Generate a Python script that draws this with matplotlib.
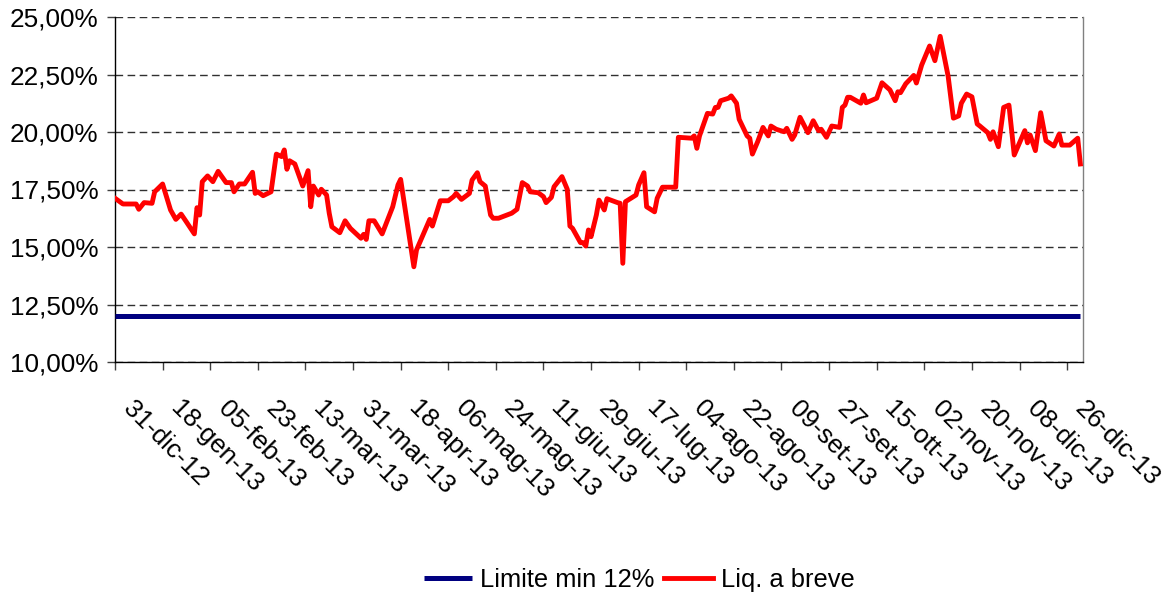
import matplotlib
matplotlib.use("Agg")
import matplotlib.pyplot as plt
import matplotlib.transforms as mtransforms
import pandas as pd
import numpy as np

plt.rcParams['font.family'] = ['Liberation Sans', 'DejaVu Sans']

# ---- data ----
dates = [
    "2012-12-31", "2013-01-03", "2013-01-08", "2013-01-09", "2013-01-11", "2013-01-14",
    "2013-01-15", "2013-01-18", "2013-01-21", "2013-01-23", "2013-01-25", "2013-01-27",
    "2013-01-30", "2013-01-31", "2013-02-01", "2013-02-02", "2013-02-04", "2013-02-06",
    "2013-02-08", "2013-02-11", "2013-02-13", "2013-02-14", "2013-02-16", "2013-02-18",
    "2013-02-21", "2013-02-22", "2013-02-23", "2013-02-25", "2013-02-28", "2013-03-02",
    "2013-03-04", "2013-03-05", "2013-03-06", "2013-03-07", "2013-03-09", "2013-03-12",
    "2013-03-14", "2013-03-15", "2013-03-16", "2013-03-18", "2013-03-19", "2013-03-21",
    "2013-03-22", "2013-03-23", "2013-03-26", "2013-03-28", "2013-03-30", "2013-04-03",
    "2013-04-04", "2013-04-05", "2013-04-06", "2013-04-08", "2013-04-11", "2013-04-15",
    "2013-04-17", "2013-04-18", "2013-04-23", "2013-04-24", "2013-04-29", "2013-04-30",
    "2013-05-03", "2013-05-06", "2013-05-08", "2013-05-09", "2013-05-11", "2013-05-14",
    "2013-05-15", "2013-05-17", "2013-05-18", "2013-05-20", "2013-05-22", "2013-05-23",
    "2013-05-25", "2013-05-29", "2013-05-30", "2013-06-01", "2013-06-03", "2013-06-05",
    "2013-06-06", "2013-06-09", "2013-06-11", "2013-06-12", "2013-06-14", "2013-06-15",
    "2013-06-18", "2013-06-20", "2013-06-21", "2013-06-22", "2013-06-25", "2013-06-26",
    "2013-06-27", "2013-06-28", "2013-06-29", "2013-07-01", "2013-07-02", "2013-07-04",
    "2013-07-05", "2013-07-09", "2013-07-10", "2013-07-11", "2013-07-12", "2013-07-16",
    "2013-07-17", "2013-07-19", "2013-07-20", "2013-07-23", "2013-07-24", "2013-07-26",
    "2013-07-31", "2013-08-01", "2013-08-06", "2013-08-07", "2013-08-08", "2013-08-09",
    "2013-08-12", "2013-08-14", "2013-08-15", "2013-08-16", "2013-08-17", "2013-08-20",
    "2013-08-21", "2013-08-23", "2013-08-24", "2013-08-27", "2013-08-28", "2013-08-29",
    "2013-08-31", "2013-09-02", "2013-09-04", "2013-09-05", "2013-09-07", "2013-09-10",
    "2013-09-11", "2013-09-13", "2013-09-14", "2013-09-16", "2013-09-19", "2013-09-21",
    "2013-09-23", "2013-09-24", "2013-09-26", "2013-09-28", "2013-10-01", "2013-10-02",
    "2013-10-03", "2013-10-04", "2013-10-05", "2013-10-09", "2013-10-10", "2013-10-11",
    "2013-10-15", "2013-10-17", "2013-10-20", "2013-10-22", "2013-10-23", "2013-10-24",
    "2013-10-26", "2013-10-29", "2013-10-30", "2013-11-01", "2013-11-04", "2013-11-06",
    "2013-11-08", "2013-11-11", "2013-11-13", "2013-11-15", "2013-11-16", "2013-11-18",
    "2013-11-20", "2013-11-22", "2013-11-23", "2013-11-26", "2013-11-27", "2013-11-28",
    "2013-11-30", "2013-12-02", "2013-12-04", "2013-12-06", "2013-12-10", "2013-12-11",
    "2013-12-12", "2013-12-14", "2013-12-16", "2013-12-18", "2013-12-21", "2013-12-23",
    "2013-12-24", "2013-12-27", "2013-12-30", "2013-12-31",
]

liq_breve = [
    17.12, 16.87, 16.87, 16.64, 16.93, 16.90,
    17.40, 17.74, 16.61, 16.20, 16.43, 16.09,
    15.57, 16.71, 16.39, 17.84, 18.09, 17.84,
    18.29, 17.80, 17.80, 17.40, 17.74, 17.74,
    18.25, 17.33, 17.40, 17.23, 17.40, 19.04,
    18.93, 19.22, 18.38, 18.75, 18.61, 17.65,
    18.32, 16.75, 17.65, 17.26, 17.51, 17.26,
    16.47, 15.88, 15.62, 16.14, 15.81, 15.38,
    15.55, 15.33, 16.14, 16.14, 15.57, 16.75,
    17.70, 17.94, 14.14, 14.87, 16.20, 15.91,
    17.01, 17.01, 17.19, 17.33, 17.07, 17.33,
    17.91, 18.23, 17.84, 17.65, 16.39, 16.25,
    16.25, 16.43, 16.47, 16.64, 17.80, 17.65,
    17.40, 17.36, 17.19, 16.93, 17.16, 17.62,
    18.06, 17.51, 15.91, 15.81, 15.19, 15.19,
    15.04, 15.74, 15.45, 16.39, 17.04, 16.61,
    17.10, 16.93, 16.90, 14.29, 16.97, 17.26,
    17.70, 18.23, 16.75, 16.53, 17.12, 17.60,
    17.60, 19.77, 19.73, 19.83, 19.29, 19.83,
    20.81, 20.78, 21.07, 21.07, 21.36, 21.47,
    21.57, 21.25, 20.55, 19.83, 19.73, 19.04,
    19.58, 20.20, 19.83, 20.26, 20.12, 20.01,
    20.16, 19.68, 19.87, 20.64, 19.97, 20.49,
    20.06, 20.12, 19.77, 20.26, 20.20, 21.07,
    21.17, 21.51, 21.51, 21.25, 21.61, 21.27,
    21.47, 22.14, 21.83, 21.36, 21.75, 21.71,
    22.10, 22.46, 22.13, 22.91, 23.74, 23.10,
    24.16, 22.43, 20.60, 20.70, 21.25, 21.65,
    21.53, 20.35, 20.26, 19.97, 19.68, 20.01,
    19.36, 21.07, 21.17, 19.00, 20.06, 19.53,
    19.87, 19.19, 20.84, 19.62, 19.39, 19.91,
    19.43, 19.43, 19.73, 18.61,
]

limite_min = 12.0

series_labels = ["Limite min 12%", "Liq. a breve"]
y_ticks = [10.0, 12.5, 15.0, 17.5, 20.0, 22.5, 25.0]
month_abbr = ["gen", "feb", "mar", "apr", "mag", "giu",
              "lug", "ago", "set", "ott", "nov", "dic"]

# ---- figure ----
W, H, DPI = 1165, 598, 100
fig = plt.figure(figsize=(W / DPI, H / DPI), dpi=DPI)
L, R, T, B = 115, 1083, 17, 362
ax = fig.add_axes([L / W, 1 - B / H, (R - L) / W, (B - T) / H])

x = pd.to_datetime(dates)
lim = np.full(len(x), limite_min)

ax.plot(x, lim, color='#000080', lw=3.6, solid_capstyle='butt', zorder=3,
        label=series_labels[0])
ax.plot(x, liq_breve, color='#FF0000', lw=3.5, solid_joinstyle='round',
        zorder=4, label=series_labels[1])

start = pd.Timestamp("2012-12-31")
ax.set_xlim(start, start + pd.Timedelta(days=366))
ax.set_ylim(10, 25)

ax.set_yticks(y_ticks)
ax.set_yticklabels([f"{v:.2f}".replace(".", ",") + "%" for v in y_ticks])

xt = pd.date_range(start, periods=21, freq="18D")
ax.set_xticks(xt)
ax.set_xticklabels([f"{d.day:02d}-{month_abbr[d.month-1]}-{d.year % 100:02d}" for d in xt])

ax.grid(axis='y', color='#303030', linestyle=(0, (5.5, 3.2)), lw=1.0, zorder=1)
ax.set_axisbelow(True)

for s in ['left', 'bottom']:
    ax.spines[s].set_color('black')
    ax.spines[s].set_linewidth(1.0)
ax.spines['top'].set_visible(False)
ax.spines['right'].set_color('#808080')
ax.spines['right'].set_linewidth(1.0)

ax.tick_params(axis='both', direction='out', length=6, width=1.0, color='#404040',
               labelsize=18.8)
ax.tick_params(axis='y', pad=6)
ax.tick_params(axis='x', pad=0)

offset = mtransforms.ScaledTranslation(20 / DPI, -26 / DPI, fig.dpi_scale_trans)
for lbl in ax.get_xticklabels():
    lbl.set_rotation(-45)
    lbl.set_rotation_mode('anchor')
    lbl.set_ha('left')
    lbl.set_va('top')
    lbl.set_transform(lbl.get_transform() + offset)

fig.legend(loc='center', bbox_to_anchor=(639 / W, 1 - 580 / H), ncol=2,
           frameon=False, fontsize=18.4, handlelength=1.9, handletextpad=0.3,
           columnspacing=0.4, borderpad=0)

fig.savefig("out.png", dpi=DPI)
